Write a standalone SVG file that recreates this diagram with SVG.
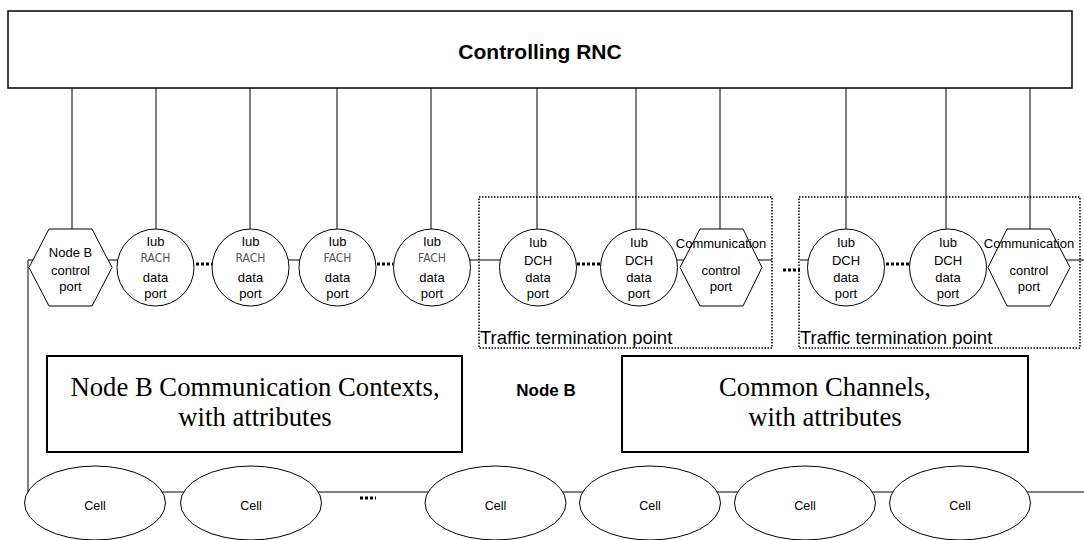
<svg xmlns="http://www.w3.org/2000/svg" width="1084" height="540" viewBox="0 0 1084 540">
<style>
.ln{stroke:#000;stroke-width:1;fill:none}
.dots{stroke:#000;stroke-width:3;stroke-dasharray:3,2;fill:none}
.shape{fill:#fff;stroke:#000;stroke-width:1}
.box{fill:#fff;stroke:#000;stroke-width:2}
.ttp{fill:none;stroke:#000;stroke-width:1.5;stroke-dasharray:1.5,1.5}
.t{font-family:"Liberation Sans",Arial,sans-serif;font-size:13px;text-anchor:middle;fill:#000}
.g{font-family:"DejaVu Sans Condensed","DejaVu Sans","Liberation Sans",sans-serif;font-stretch:condensed;font-size:12px;text-anchor:middle;fill:#555}
.serif{font-family:"Liberation Serif","Times New Roman",serif;font-size:26.7px;text-anchor:middle;fill:#000}
.bold{font-family:"Liberation Sans",Arial,sans-serif;font-weight:bold;text-anchor:middle;fill:#000}
.ttpt{font-family:"Liberation Sans",Arial,sans-serif;font-size:18.5px;fill:#000}
.cell{font-family:"Liberation Sans",Arial,sans-serif;font-size:12.5px;text-anchor:middle;fill:#000}
</style>

<g id="connectors">
  <path class="ln" d="M72,88V229 M156,88V229 M250,88V229 M337,88V229 M431,88V229 M537,88V229 M636,88V229 M720,88V229 M846,88V229 M946,88V229 M1030,88V229"/>
  <path class="ln" d="M28,260H40 M108,260H120 M286,260H300 M468,260H503 M675,260H684 M758,260H772 M800,260H810 M1066,260H1084"/>
  <path class="dots" d="M196,264H212 M377,264H393 M577,264H601 M783,270H800 M886,264H909"/>
  <path class="ln" d="M28,260V492"/>
  <path class="ln" d="M28,492H1084"/>
  <path class="dots" d="M360,498H376"/>
</g>

<g id="rnc">
  <rect x="8" y="11" width="1064" height="77" fill="#fff" stroke="#000" stroke-width="1.5"/>
  <text class="bold" x="540" y="59" font-size="21px">Controlling RNC</text>
</g>

<g id="ttp1">
  <rect class="ttp" x="479" y="197" width="293" height="151"/>
  <text class="ttpt" x="480" y="344">Traffic termination point</text>
</g>
<g id="ttp2">
  <rect class="ttp" x="799" y="197" width="281" height="151"/>
  <text class="ttpt" x="800" y="344">Traffic termination point</text>
</g>

<g id="nodeb-control-port">
  <polygon class="shape" points="29,267.5 49,229 92,229 112,267.5 92,306 49,306"/>
  <text class="t" x="70.5" y="256.5">Node B</text>
  <text class="t" x="70.5" y="274.5">control</text>
  <text class="t" x="70.5" y="291">port</text>
</g>

<g id="rach1">
  <circle class="shape" cx="155.5" cy="267.5" r="38.5"/>
  <text class="t" x="155.5" y="245.5">Iub</text>
  <text class="g" x="155.5" y="262">RACH</text>
  <text class="t" x="155.5" y="282">data</text>
  <text class="t" x="155.5" y="298">port</text>
</g>
<g id="rach2">
  <circle class="shape" cx="250.5" cy="267.5" r="38.5"/>
  <text class="t" x="250.5" y="245.5">Iub</text>
  <text class="g" x="250.5" y="262">RACH</text>
  <text class="t" x="250.5" y="282">data</text>
  <text class="t" x="250.5" y="298">port</text>
</g>
<g id="fach1">
  <circle class="shape" cx="337.5" cy="267.5" r="38.5"/>
  <text class="t" x="337.5" y="245.5">Iub</text>
  <text class="g" x="337.5" y="262">FACH</text>
  <text class="t" x="337.5" y="282">data</text>
  <text class="t" x="337.5" y="298">port</text>
</g>
<g id="fach2">
  <circle class="shape" cx="432" cy="267.5" r="38.5"/>
  <text class="t" x="432" y="245.5">Iub</text>
  <text class="g" x="432" y="262">FACH</text>
  <text class="t" x="432" y="282">data</text>
  <text class="t" x="432" y="298">port</text>
</g>
<g id="dch1">
  <circle class="shape" cx="538" cy="267.5" r="38.5"/>
  <text class="t" x="538" y="247">Iub</text>
  <text class="t" x="538" y="265">DCH</text>
  <text class="t" x="538" y="282">data</text>
  <text class="t" x="538" y="298">port</text>
</g>
<g id="dch2">
  <circle class="shape" cx="639" cy="267.5" r="38.5"/>
  <text class="t" x="639" y="247">Iub</text>
  <text class="t" x="639" y="265">DCH</text>
  <text class="t" x="639" y="282">data</text>
  <text class="t" x="639" y="298">port</text>
</g>
<g id="comm-port1">
  <polygon class="shape" points="680,267.5 700,229 743,229 762,267.5 743,306 700,306"/>
  <text class="t" x="721" y="247.5">Communication</text>
  <text class="t" x="721" y="274.5">control</text>
  <text class="t" x="721" y="291">port</text>
</g>
<g id="dch3">
  <circle class="shape" cx="846" cy="267.5" r="38.5"/>
  <text class="t" x="846" y="247">Iub</text>
  <text class="t" x="846" y="265">DCH</text>
  <text class="t" x="846" y="282">data</text>
  <text class="t" x="846" y="298">port</text>
</g>
<g id="dch4">
  <circle class="shape" cx="948" cy="267.5" r="38.5"/>
  <text class="t" x="948" y="247">Iub</text>
  <text class="t" x="948" y="265">DCH</text>
  <text class="t" x="948" y="282">data</text>
  <text class="t" x="948" y="298">port</text>
</g>
<g id="comm-port2">
  <polygon class="shape" points="988,267.5 1007,229 1050,229 1070,267.5 1050,306 1007,306"/>
  <text class="t" x="1029" y="247.5">Communication</text>
  <text class="t" x="1029" y="274.5">control</text>
  <text class="t" x="1029" y="291">port</text>
</g>

<g id="contexts">
  <rect class="box" x="47" y="356" width="415" height="96"/>
  <text class="serif" x="255" y="396">Node B Communication Contexts,</text>
  <text class="serif" x="255" y="426">with attributes</text>
</g>
<g id="nodeb-label">
  <text class="bold" x="546" y="396" font-size="17px">Node B</text>
</g>
<g id="common-channels">
  <rect class="box" x="622" y="356" width="406" height="96"/>
  <text class="serif" x="825" y="396">Common Channels,</text>
  <text class="serif" x="825" y="426">with attributes</text>
</g>

<g id="cell1"><ellipse class="shape" cx="95" cy="503" rx="70.5" ry="37"/><text class="cell" x="95" y="510">Cell</text></g>
<g id="cell2"><ellipse class="shape" cx="251" cy="503" rx="70.5" ry="37"/><text class="cell" x="251" y="510">Cell</text></g>
<g id="cell3"><ellipse class="shape" cx="495.5" cy="503" rx="70.5" ry="37"/><text class="cell" x="495.5" y="510">Cell</text></g>
<g id="cell4"><ellipse class="shape" cx="650" cy="503" rx="70.5" ry="37"/><text class="cell" x="650" y="510">Cell</text></g>
<g id="cell5"><ellipse class="shape" cx="805" cy="503" rx="70.5" ry="37"/><text class="cell" x="805" y="510">Cell</text></g>
<g id="cell6"><ellipse class="shape" cx="960" cy="503" rx="70.5" ry="37"/><text class="cell" x="960" y="510">Cell</text></g>
</svg>
